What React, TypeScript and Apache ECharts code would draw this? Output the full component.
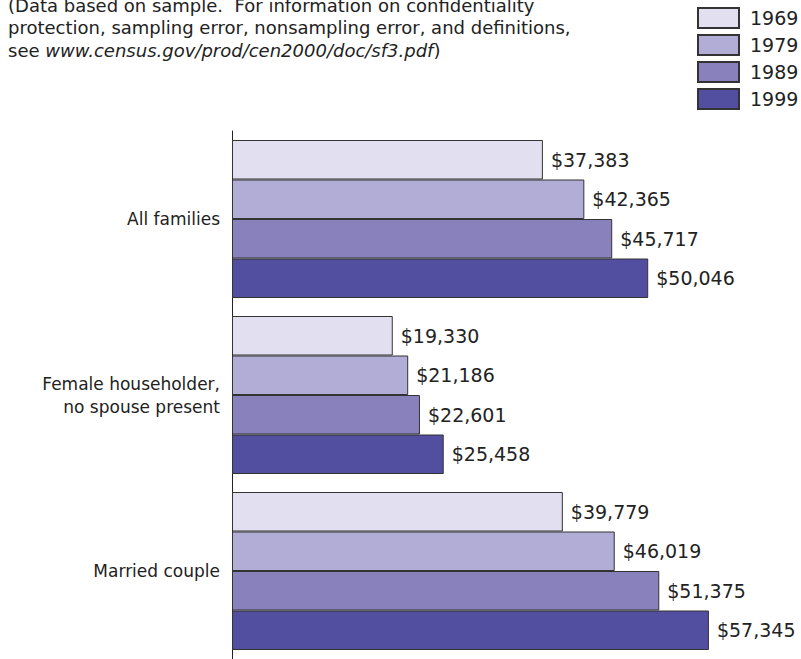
import React, { useEffect, useRef } from "react";
import * as echarts from "echarts";

const categories = ["All families", "Female householder,\nno spouse present", "Married couple"];
const years = ["1969", "1979", "1989", "1999"];
const values1969 = [37383, 19330, 39779];
const values1979 = [42365, 21186, 46019];
const values1989 = [45717, 22601, 51375];
const values1999 = [50046, 25458, 57345];
const colors = ["#e1dff0", "#b1add7", "#8881bc", "#534fa0"];

const FONT = "DejaVu Sans";

export default function App() {
  const ref = useRef<HTMLDivElement>(null);
  useEffect(() => {
    if (!ref.current) return;
    const chart = echarts.init(ref.current, null, { renderer: "svg" });
    const seriesValues = [values1969, values1979, values1989, values1999];
    chart.setOption({
      animation: false,
      backgroundColor: "#ffffff",
      textStyle: { fontFamily: FONT },
      graphic: [
        {
          type: "text",
          left: 8,
          top: -6,
          style: {
            text:
              "(Data based on sample.  For information on confidentiality\nprotection, sampling error, nonsampling error, and definitions,\nsee {i|www.census.gov/prod/cen2000/doc/sf3.pdf})",
            fontFamily: FONT,
            fontSize: 18,
            lineHeight: 22.5,
            fill: "#222",
            rich: {
              i: { fontStyle: "italic", fontFamily: FONT, fontSize: 18, lineHeight: 22.5, fill: "#222" },
            },
          },
        },
      ],
      legend: {
        orient: "vertical",
        left: 692,
        top: 2,
        icon: "rect",
        itemWidth: 41,
        itemHeight: 20,
        itemGap: 5,
        data: years,
        textStyle: { fontSize: 19, color: "#222", fontFamily: FONT, padding: [0, 0, 0, 6] },
      },
      grid: { left: 232, top: 131, width: 499, height: 531, containLabel: false },
      xAxis: { type: "value", min: 0, max: 60000, show: false },
      yAxis: {
        type: "category",
        inverse: true,
        data: categories,
        axisLine: { show: true, lineStyle: { color: "#222", width: 1 } },
        axisTick: { show: false },
        axisLabel: { fontSize: 17, color: "#222", margin: 12, align: "right", lineHeight: 23, fontFamily: FONT },
      },
      series: years.map((y, i) => ({
        name: y,
        type: "bar",
        data: seriesValues[i],
        barGap: "0%",
        barWidth: 39.5,
        itemStyle: { color: colors[i], borderColor: "#333", borderWidth: 1 },
        label: {
          show: true,
          position: "right",
          distance: 8,
          fontSize: 19,
          color: "#222",
          fontFamily: FONT,
          formatter: (p: any) => "$" + Number(p.value).toLocaleString("en-US"),
        },
      })),
    });
    return () => chart.dispose();
  }, []);
  return (
    <div
      ref={ref}
      style={{ position: "fixed", left: 0, top: 0, width: 801, height: 659, background: "#fff" }}
    />
  );
}
